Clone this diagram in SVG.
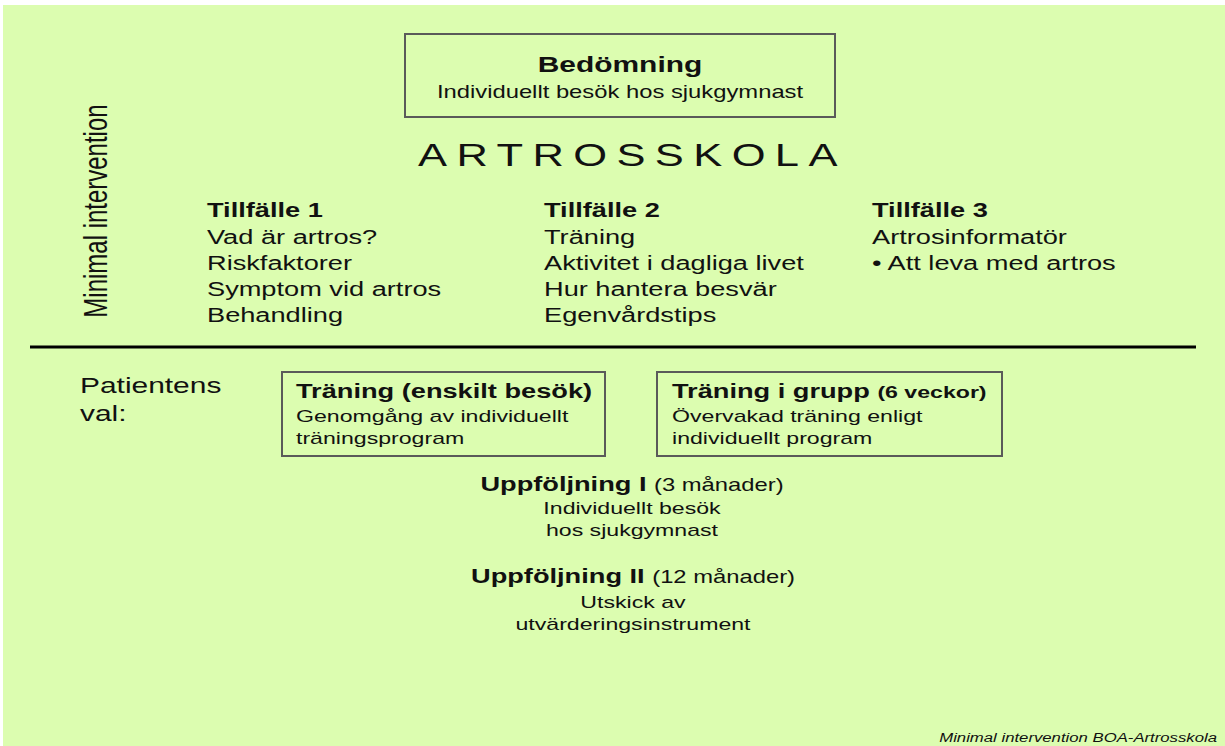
<svg xmlns="http://www.w3.org/2000/svg" width="1225" height="746" viewBox="0 0 1225 746">
<style>
.t{font-family:"Liberation Sans",Arial,sans-serif;fill:#111}
.b{font-weight:bold}
.box{fill:none;stroke:#5a5a5a;stroke-width:2}
.s20{font-size:20px}
.s17{font-size:17px}
</style>
<rect x="0" y="0" width="1225" height="746" fill="#ffffff"/>
<rect x="3" y="5" width="1222" height="741" fill="#dcfdb0"/>

<g id="bedomning">
<rect class="box" x="405" y="34" width="430" height="83"/>
<g transform="translate(620 0) scale(1.36 1)">
<text class="t b" x="0" y="72" font-size="22" text-anchor="middle">Bedömning</text>
<text class="t" x="0" y="98" font-size="17.5" text-anchor="middle">Individuellt besök hos sjukgymnast</text>
</g>
</g>

<g id="artrosskola" transform="translate(418 0) scale(1.36 1)">
<text class="t" x="0" y="166" font-size="32" letter-spacing="6.9">ARTROSSKOLA</text>
</g>

<g id="minimal-intervention" transform="translate(107 211) scale(1.36 1) rotate(-90)">
<text class="t" x="0" y="0" font-size="24" text-anchor="middle">Minimal intervention</text>
</g>

<g id="tillfalle1" transform="translate(207 0) scale(1.36 1)">
<text class="t b s20" x="0" y="217">Tillfälle 1</text>
<text class="t s20" x="0" y="244">Vad är artros?</text>
<text class="t s20" x="0" y="270">Riskfaktorer</text>
<text class="t s20" x="0" y="296">Symptom vid artros</text>
<text class="t s20" x="0" y="322">Behandling</text>
</g>

<g id="tillfalle2" transform="translate(544 0) scale(1.36 1)">
<text class="t b s20" x="0" y="217">Tillfälle 2</text>
<text class="t s20" x="0" y="244">Träning</text>
<text class="t s20" x="0" y="270">Aktivitet i dagliga livet</text>
<text class="t s20" x="0" y="296">Hur hantera besvär</text>
<text class="t s20" x="0" y="322">Egenvårdstips</text>
</g>

<g id="tillfalle3" transform="translate(872 0) scale(1.36 1)">
<text class="t b s20" x="0" y="217">Tillfälle 3</text>
<text class="t s20" x="0" y="244">Artrosinformatör</text>
<text class="t s20" x="0" y="270">• Att leva med artros</text>
</g>

<g id="connectors">
<line x1="30" y1="347" x2="1196" y2="347" stroke="#000" stroke-width="3"/>
</g>

<g id="patientens-val" transform="translate(80 0) scale(1.36 1)">
<text class="t" x="0" y="393" font-size="22">Patientens</text>
<text class="t" x="0" y="421" font-size="22">val:</text>
</g>

<g id="traning-enskilt">
<rect class="box" x="282" y="372" width="323" height="84"/>
<g transform="translate(296 0) scale(1.36 1)">
<text class="t b s20" x="0" y="398">Träning (enskilt besök)</text>
<text class="t s17" x="0" y="422">Genomgång av individuellt</text>
<text class="t s17" x="0" y="444">träningsprogram</text>
</g>
</g>

<g id="traning-grupp">
<rect class="box" x="657" y="372" width="345" height="84"/>
<g transform="translate(672 0) scale(1.36 1)">
<text class="t b s20" x="0" y="398">Träning i grupp <tspan font-size="17">(6 veckor)</tspan></text>
<text class="t s17" x="0" y="422">Övervakad träning enligt</text>
<text class="t s17" x="0" y="444">individuellt program</text>
</g>
</g>

<g id="uppfoljning1" transform="translate(632 0) scale(1.36 1)">
<text class="t b s20" x="0" y="491" text-anchor="middle">Uppföljning I <tspan font-weight="normal" font-size="17.5">(3 månader)</tspan></text>
<text class="t s17" x="0" y="514" text-anchor="middle">Individuellt besök</text>
<text class="t s17" x="0" y="536" text-anchor="middle">hos sjukgymnast</text>
</g>

<g id="uppfoljning2" transform="translate(633 0) scale(1.36 1)">
<text class="t b s20" x="0" y="583" text-anchor="middle">Uppföljning II <tspan font-weight="normal" font-size="17.5">(12 månader)</tspan></text>
<text class="t s17" x="0" y="608" text-anchor="middle">Utskick av</text>
<text class="t s17" x="0" y="630" text-anchor="middle">utvärderingsinstrument</text>
</g>

<g id="footer" transform="translate(1217 0) scale(1.36 1)">
<text class="t" x="0" y="742" font-size="12.3" font-style="italic" text-anchor="end" fill="#333">Minimal intervention BOA-Artrosskola</text>
</g>
</svg>
